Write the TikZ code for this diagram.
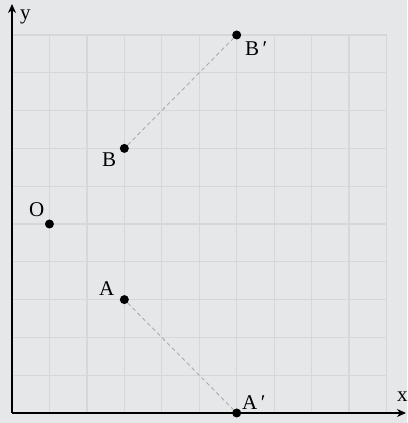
\documentclass[tikz,border=0pt]{standalone}
\usepackage{fontspec}
\setmainfont{Liberation Serif}
\usetikzlibrary{arrows.meta}
\definecolor{bgc}{RGB}{230,231,233}
\definecolor{gridc}{RGB}{214,215,217}
\definecolor{dashc}{RGB}{170,171,173}
\tikzset{
  dot/.style={circle,fill=black,inner sep=0pt,minimum size=9pt},
  lbl/.style={anchor=base west,inner sep=0pt,font=\fontsize{21}{24}\selectfont},
  axis/.style={line width=1.8pt,-{Stealth[length=9pt,width=8pt]}},
  gridline/.style={gridc,line width=1.3pt},
  dashline/.style={dashc,line width=0.9pt,dash pattern=on 4pt off 3pt}
}
\begin{document}
\begin{tikzpicture}[x=1pt,y=1pt]
\fill[bgc] (0,0) rectangle (407,423);
\useasboundingbox (0,0) rectangle (407,423);
% grid
\foreach \i in {1,...,10} {
  \draw[gridline] ({12+\i*37.45},10) -- ({12+\i*37.45},388);
  \draw[gridline] (12,{10+\i*37.8}) -- (386.5,{10+\i*37.8});
}
% axes
\coordinate (orig) at (12,10);
\coordinate (xend) at (406,10);
\coordinate (yend) at (12,419);
\draw[axis] (orig) -- (xend);
\draw[axis] (orig) -- (yend);
% points
\node[dot] (O) at (49.45,199) {};
\node[dot] (A) at (124.35,123.4) {};
\node[dot] (B) at (124.35,274.6) {};
\node[dot] (Bp) at (236.7,388) {};
\node[dot] (Ap) at (236.7,10) {};
\draw[dashline] (A) -- (Ap);
\draw[dashline] (B) -- (Bp);
% labels
\node[lbl] (ly) at (20,403) {y};
\node[lbl] (lx) at (397,21) {x};
\node[lbl] (lO) at (29,206) {O};
\node[lbl] (lA) at (99,127) {A};
\node[lbl] (lB) at (102,256) {B};
\node[lbl] (lBp) at (245,367) {B\,′};
\node[lbl] (lAp) at (242,13) {A\,′};
\end{tikzpicture}
\end{document}
